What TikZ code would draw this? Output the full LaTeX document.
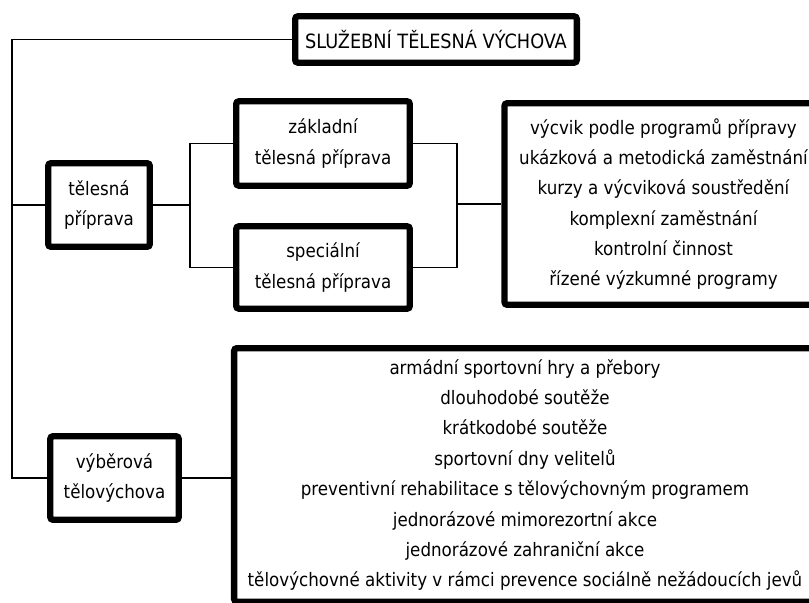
\documentclass[tikz,border=0pt]{standalone}
\usepackage{fontspec}
\setmainfont{DejaVu Sans Condensed}
\usepackage{tikz}
\usetikzlibrary{positioning,calc}

\begin{document}
\begin{tikzpicture}[x=0.025cm, y=-0.025cm,
  box/.style={draw, line width=4.5pt, rounded corners=2pt, align=center, inner sep=0pt,
    font=\fontsize{13.2}{21.6}\selectfont},
  link/.style={line width=1.3pt}]
  \useasboundingbox (0,0) rectangle (809,603);
  \clip (0,0) rectangle (809,603);

  % Boxes
  \node[box, minimum width=7.04cm, minimum height=1.16cm, font=\fontsize{14}{16}\selectfont] (title) at (436,39.5) {SLUŽEBNÍ TĚLESNÁ VÝCHOVA};
  \node[box, minimum width=2.54cm, minimum height=2.09cm] (tp) at (99,205) {tělesná\\příprava};
  \node[box, minimum width=4.34cm, minimum height=2.11cm] (zak) at (323,143.5) {základní\\tělesná příprava};
  \node[box, minimum width=4.34cm, minimum height=2.06cm] (spec) at (323,267.5) {speciální\\tělesná příprava};
  \node[box, minimum width=7.95cm, minimum height=5.04cm] (prog) at (663.5,204)
    {výcvik podle programů přípravy\\ukázková a metodická zaměstnání\\kurzy a výcviková soustředění\\komplexní zaměstnání\\kontrolní činnost\\řízené výzkumné programy};
  \node[box, minimum width=3.21cm, minimum height=2.09cm] (vyb) at (114.5,478) {výběrová\\tělovýchova};
  \node[box, minimum width=14.54cm, minimum height=6.34cm] (akt) at (525,475)
    {armádní sportovní hry a přebory\\dlouhodobé soutěže\\krátkodobé soutěže\\sportovní dny velitelů\\preventivní rehabilitace s tělovýchovným programem\\jednorázové mimorezortní akce\\jednorázové zahraniční akce\\tělovýchovné aktivity v rámci prevence sociálně nežádoucích jevů};

  % Links
  \coordinate (lb) at (12,0);
  \coordinate (j1) at (190,0);
  \coordinate (j2) at (457,0);
  \draw[link] (title.west) -| (lb |- vyb.west) -- (vyb.west);
  \draw[link] (lb |- tp.west) -- (tp.west);
  \draw[link] (tp.east) -- (j1 |- tp.east);
  \draw[link] (zak.west) -| (j1 |- spec.west) -- (spec.west);
  \draw[link] (zak.east) -| (j2 |- spec.east) -- (spec.east);
  \draw[link] (j2 |- prog.west) -- (prog.west);
  \draw[link] (vyb.east) -- (vyb.east -| akt.west);
\end{tikzpicture}
\end{document}
